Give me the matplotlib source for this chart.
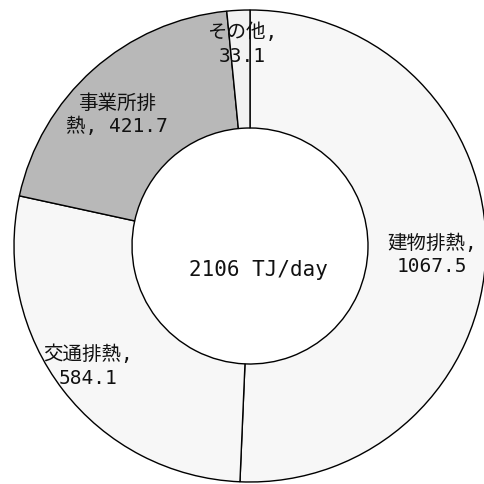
import matplotlib.pyplot as plt

plt.rcParams['font.family'] = ['DejaVu Sans Mono', 'Noto Sans CJK JP']

# データ
names = ['建物排熱', '交通排熱', '事業所排熱', 'その他']
values = [1067.5, 584.1, 421.7, 33.1]
total_label = '2106 TJ/day'
colors = ['#f7f7f7', '#f7f7f7', '#b8b8b8', '#f2f2f2']
label_texts = ['建物排熱,\n1067.5', '交通排熱,\n584.1', '事業所排\n熱, 421.7', 'その他,\n33.1']

# ラベル位置 (ピクセル)
label_px = [(432, 255), (88, 366), (117, 115), (242, 44)]

cx, cy, R = 250, 246, 236


def to_data(px, py):
    return (px - cx) / R, (cy - py) / R


fig = plt.figure(figsize=(4.84, 4.84), dpi=100)
ax = fig.add_axes([0, 0, 1, 1])
ax.pie(values, colors=colors, startangle=90, counterclock=False,
       radius=1, wedgeprops=dict(width=0.5, edgecolor='black', linewidth=1.0))

for txt, (px, py) in zip(label_texts, label_px):
    x, y = to_data(px, py)
    ax.text(x, y, txt, ha='center', va='center', fontsize=14,
            linespacing=1.3, color='#111111')

x, y = to_data(258, 270)
ax.text(x, y, total_label, ha='center', va='center', fontsize=15, color='#111111')

ax.set_xlim(-cx / R, (484 - cx) / R)
ax.set_ylim(-(484 - cy) / R, cy / R)
ax.set_aspect('equal')
ax.axis('off')

fig.savefig('out.png', dpi=100)
